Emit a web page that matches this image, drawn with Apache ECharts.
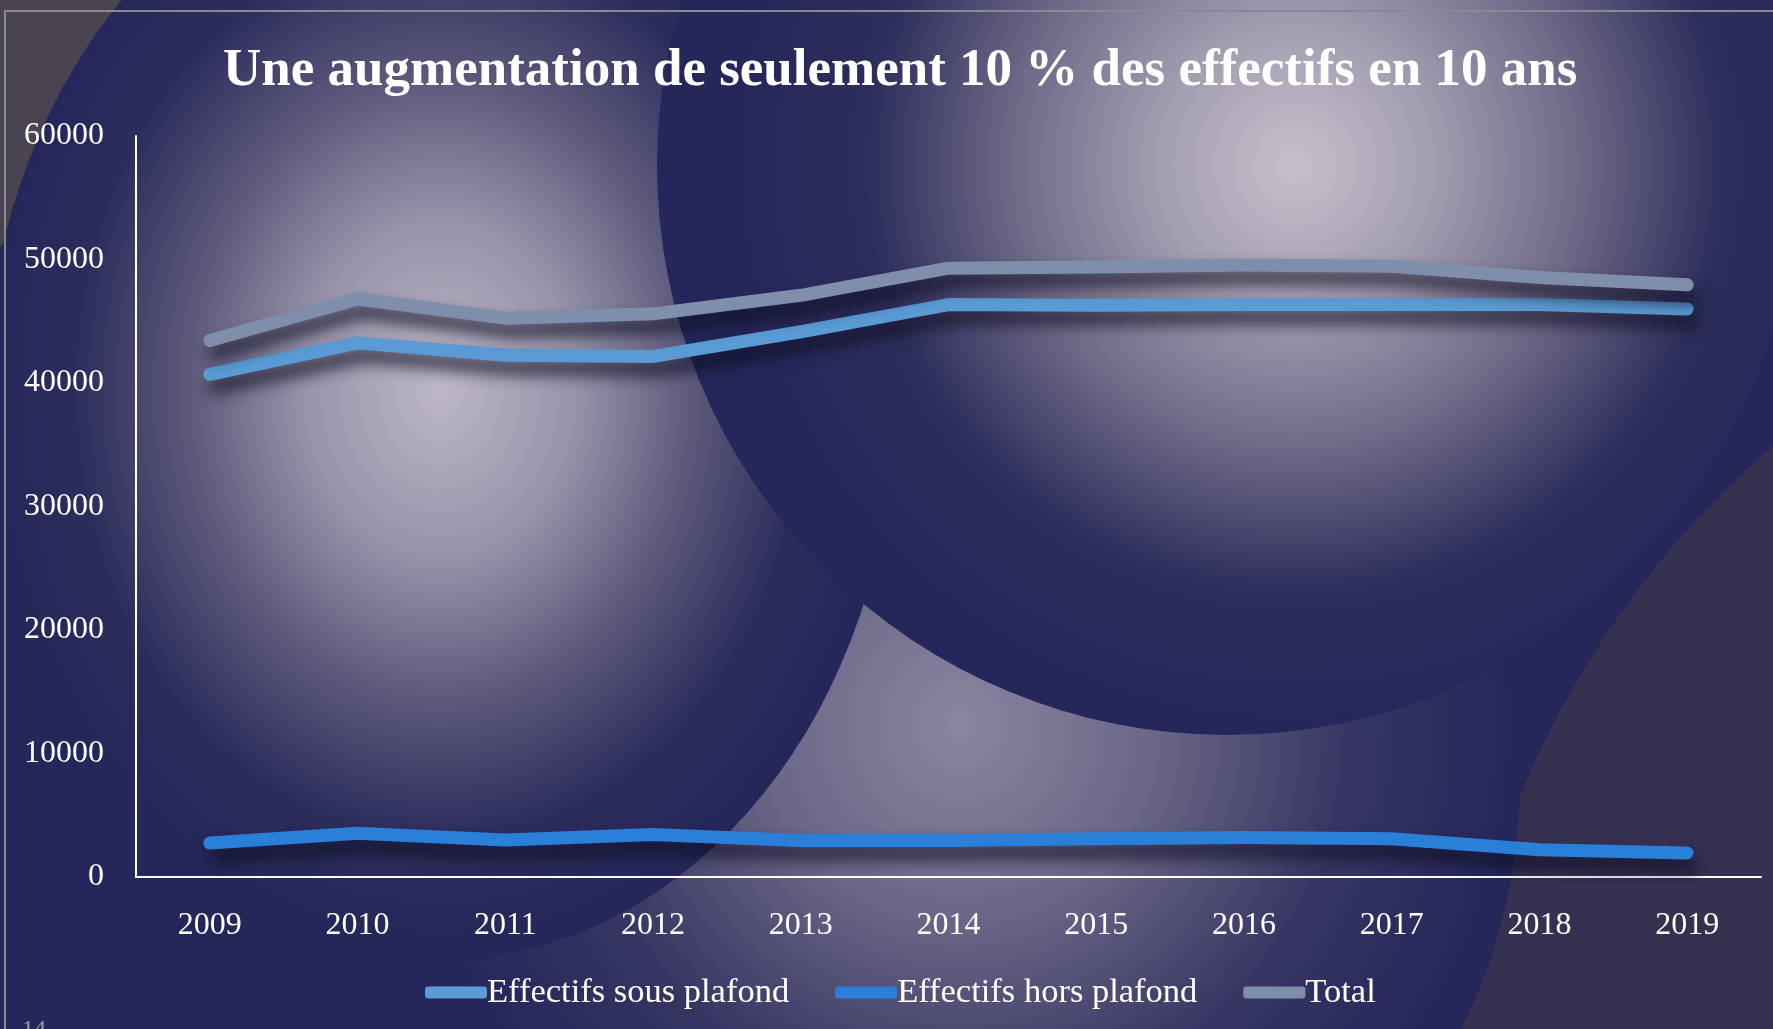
<!DOCTYPE html>
<html>
<head>
<meta charset="utf-8">
<title>Effectifs 2009-2019</title>
<script src="https://cdn.jsdelivr.net/npm/echarts@6/dist/echarts.min.js"></script>
<style>
  html, body { margin: 0; padding: 0; background: #25265a; }
  #chart { width: 1773px; height: 1029px; }
</style>
</head>
<body>
<div id="chart"></div>
<script>
  // data
  var years = ['2009', '2010', '2011', '2012', '2013', '2014', '2015', '2016', '2017', '2018', '2019']
  var sousPlafond = [40700, 43250, 42250, 42150, 44150, 46350, 46300, 46350, 46350, 46350, 46000]
  var horsPlafond = [2750, 3550, 3000, 3450, 2950, 2950, 3100, 3200, 3100, 2200, 1950]
  var total = [43450, 46800, 45250, 45600, 47100, 49300, 49400, 49550, 49450, 48550, 47950]
  var seriesNames = ['Effectifs sous plafond', 'Effectifs hors plafond', 'Total']
  var seriesColors = ['#5b9bd5', '#2a7fd9', '#7f8fab']

  var serif = '"Liberation Serif", "DejaVu Serif", serif'

  var chart = echarts.init(document.getElementById('chart'))

  function radial(x, y, r, stops) {
    return new echarts.graphic.RadialGradient(x, y, r, stops.map(function (s) {
      return { offset: s[0], color: s[1] }
    }))
  }

  function lineSeries(name, data, color) {
    return {
      name: name,
      type: 'line',
      data: data,
      showSymbol: false,
      symbol: 'none',
      color: color,
      lineStyle: {
        color: color,
        width: 13,
        cap: 'round',
        join: 'round',
        shadowColor: 'rgba(14, 14, 34, 0.85)',
        shadowBlur: 16,
        shadowOffsetX: 5,
        shadowOffsetY: 12
      },
      animation: false
    }
  }

  // background shapes (decoration only)
  var background = [
    {
      type: 'rect', z: -20, silent: true,
      shape: { x: 0, y: 0, width: 1773, height: 1029 },
      style: { fill: '#25265a' }
    },
    // top-left corner
    {
      type: 'circle', z: -19, silent: true,
      shape: { cx: -400, cy: -200, r: 600 },
      style: { fill: '#4a4352' }
    },
    // bottom-right corner
    {
      type: 'circle', z: -18, silent: true,
      shape: { cx: 2380, cy: 1150, r: 930 },
      style: { fill: '#363051' }
    },
    // bottom glow
    {
      type: 'circle', z: -17, silent: true,
      shape: { cx: 960, cy: 780, r: 560 },
      style: {
        fill: radial(0.5, 0.45, 0.5, [
          [0, '#8a85a0'], [0.35, '#6a6686'], [0.7, '#363562'], [1, '#25265a']
        ])
      }
    },
    // left sphere
    {
      type: 'circle', z: -16, silent: true,
      shape: { cx: 440, cy: 400, r: 455 },
      scaleY: 1.23, originX: 440, originY: 400,
      style: {
        fill: radial(0.5, 0.49, 0.5, [
          [0, '#bdb7c7'], [0.3, '#9893aa'], [0.55, '#5e5a7c'], [0.8, '#2d2d5c'], [1, '#25265a']
        ])
      }
    },
    // right sphere
    {
      type: 'circle', z: -15, silent: true,
      shape: { cx: 1227, cy: 165, r: 570 },
      style: {
        fill: radial(0.56, 0.5, 0.5, [
          [0, '#c6c0cd'], [0.25, '#a29cb0'], [0.5, '#6d6987'], [0.75, '#2e2e5c'], [1, '#25265a']
        ])
      }
    },
    // frame
    {
      type: 'rect', z: -14, silent: true,
      shape: { x: 5, y: 11, width: 1800, height: 1100 },
      style: { fill: 'none', stroke: '#8a8a8e', lineWidth: 2 }
    },
    {
      type: 'text', z: -13, silent: true,
      left: 22, top: 1018,
      style: { text: '14', fill: '#9a9aa2', font: '24px ' + serif }
    }
  ]

  chart.setOption({
    backgroundColor: '#25265a',
    graphic: background,
    title: {
      text: 'Une augmentation de seulement 10 % des effectifs en 10 ans',
      left: 218,
      top: 40,
      textStyle: {
        color: '#ffffff',
        fontFamily: serif,
        fontWeight: 'bold',
        fontSize: 53
      }
    },
    legend: {
      data: seriesNames,
      left: 420,
      top: 970,
      icon: 'roundRect',
      itemWidth: 62,
      itemHeight: 12,
      itemGap: 46,
      textStyle: {
        color: '#ffffff',
        fontFamily: serif,
        fontSize: 34.5,
        padding: [0, 0, 0, -5]
      }
    },
    grid: {
      left: 136,
      right: 12,
      top: 136,
      bottom: 152,
      containLabel: false
    },
    xAxis: {
      type: 'category',
      data: years,
      boundaryGap: true,
      axisLine: { show: true, lineStyle: { color: '#ffffff', width: 2 } },
      axisTick: { show: false },
      axisLabel: {
        color: '#ffffff',
        fontFamily: serif,
        fontSize: 32,
        margin: 33
      },
      splitLine: { show: false }
    },
    yAxis: {
      type: 'value',
      min: 0,
      max: 60000,
      interval: 10000,
      axisLine: { show: true, lineStyle: { color: '#ffffff', width: 2 } },
      axisTick: { show: false },
      axisLabel: {
        color: '#ffffff',
        fontFamily: serif,
        fontSize: 32,
        margin: 32,
        formatter: function (v) { return String(v) }
      },
      splitLine: { show: false }
    },
    series: [
      lineSeries(seriesNames[0], sousPlafond, seriesColors[0]),
      lineSeries(seriesNames[1], horsPlafond, seriesColors[1]),
      lineSeries(seriesNames[2], total, seriesColors[2])
    ]
  })
</script>
</body>
</html>
